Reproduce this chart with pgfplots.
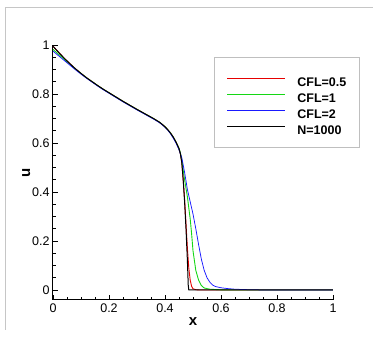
\documentclass[border=0pt]{standalone}
\usepackage{fontspec}
\setmainfont{Liberation Sans}
\usepackage{pgfplots}
\pgfplotsset{compat=1.18}
\definecolor{cred}{RGB}{230,0,0}
\definecolor{cgreen}{RGB}{20,215,20}
\definecolor{cblue}{RGB}{25,25,255}
\begin{document}
\begin{tikzpicture}[x=1pt,y=1pt]
\useasboundingbox (0,0) rectangle (373,337);
\draw[gray!45, line width=0.8pt] (5,7) -- (5,330) -- (373,330);
\begin{axis}[
  at={(53pt,37pt)}, anchor=south west,
  scale only axis, width=280pt, height=255pt,
  xmin=0, xmax=1, ymin=-0.041, ymax=1,
  axis x line*=bottom, axis y line*=left,
  axis line style={line width=1pt, -},
  xtick={0,0.2,0.4,0.6,0.8,1}, ytick={0,0.2,0.4,0.6,0.8,1},
  minor tick num=3,
  tick align=inside,
  major tick length=5pt, minor tick length=3pt,
  every tick/.style={black, line width=0.8pt},
  /pgf/number format/assume math mode=true,
  tick label style={font=\fontsize{12.5}{14}\selectfont},
  xlabel={\textbf{x}}, ylabel={\textbf{u}},
  label style={font=\fontsize{15}{16}\selectfont},
  xlabel style={yshift=2pt},
  ylabel style={yshift=-5pt},
  legend cell align=left,
  legend image code/.code={\draw[#1, line width=1.1pt] (0pt,0pt) -- (58pt,0pt);},
  legend style={at={(0.575,0.953)}, anchor=north west, draw=gray!50, line width=0.6pt,
    font=\bfseries\fontsize{12.5}{14}\selectfont,
    inner xsep=12.5pt, inner ysep=12.5pt, row sep=-1pt, column sep=11.5pt,
    nodes={inner sep=0pt, text height=17pt, text depth=0pt}},
]
\addplot[cred, line width=0.9pt] coordinates {
(0,0.995) (0.02,0.97) (0.04,0.946) (0.06,0.924) (0.08,0.903) (0.10,0.884) (0.12,0.866)
(0.14,0.85) (0.16,0.834) (0.18,0.819) (0.2,0.805) (0.25,0.770) (0.30,0.737) (0.33,0.718)
(0.36,0.699) (0.38,0.685) (0.39,0.676) (0.40,0.666) (0.41,0.654) (0.42,0.640) (0.43,0.623)
(0.44,0.602) (0.45,0.577) (0.455,0.556) (0.46,0.52) (0.465,0.45) (0.47,0.37) (0.475,0.27)
(0.48,0.17) (0.485,0.09) (0.49,0.04) (0.495,0.015) (0.50,0.005) (0.51,0.001) (0.52,0) (1,0)};
\addlegendentry{CFL=0.5}
\addplot[cgreen, line width=0.9pt] coordinates {
(0,0.982) (0.02,0.962) (0.04,0.942) (0.06,0.922) (0.08,0.902) (0.10,0.884) (0.12,0.866)
(0.14,0.85) (0.16,0.834) (0.18,0.819) (0.2,0.805) (0.25,0.770) (0.30,0.737) (0.33,0.718)
(0.36,0.699) (0.38,0.685) (0.39,0.676) (0.40,0.666) (0.41,0.654) (0.42,0.640) (0.43,0.623)
(0.44,0.602) (0.45,0.578) (0.455,0.56) (0.46,0.53) (0.47,0.45) (0.48,0.38) (0.49,0.29)
(0.495,0.23) (0.50,0.16) (0.51,0.08) (0.52,0.04) (0.53,0.018) (0.54,0.008) (0.56,0.003)
(0.6,0.0005) (0.65,0) (1,0)};
\addlegendentry{CFL=1}
\addplot[cblue, line width=0.75pt] coordinates {
(0,0.975) (0.02,0.956) (0.04,0.937) (0.06,0.918) (0.08,0.899) (0.10,0.881) (0.12,0.864)
(0.14,0.848) (0.16,0.832) (0.18,0.817) (0.2,0.803) (0.25,0.768) (0.30,0.735) (0.33,0.716)
(0.36,0.697) (0.38,0.683) (0.39,0.674) (0.40,0.664) (0.41,0.652) (0.42,0.637) (0.43,0.619)
(0.44,0.598) (0.45,0.572) (0.46,0.54) (0.47,0.48) (0.48,0.41) (0.49,0.36) (0.50,0.31)
(0.51,0.25) (0.52,0.185) (0.53,0.125) (0.54,0.08) (0.55,0.05) (0.56,0.032) (0.57,0.02)
(0.58,0.014) (0.6,0.009) (0.62,0.006) (0.65,0.003) (0.7,0.001) (0.75,0) (1,0)};
\addlegendentry{CFL=2}
\addplot[black, line width=1pt] coordinates {
(0,0.995) (0.02,0.97) (0.04,0.946) (0.06,0.924) (0.08,0.903) (0.10,0.884) (0.12,0.866)
(0.14,0.85) (0.16,0.834) (0.18,0.819) (0.2,0.805) (0.25,0.770) (0.30,0.737) (0.33,0.718)
(0.36,0.699) (0.38,0.685) (0.39,0.676) (0.40,0.666) (0.41,0.654) (0.42,0.640) (0.43,0.623)
(0.44,0.602) (0.45,0.577) (0.455,0.556) (0.46,0.52) (0.465,0.45) (0.47,0.36) (0.475,0.25)
(0.48,0.12) (0.483,0.02) (0.485,0) (1,0)};
\addlegendentry{N=1000}
\end{axis}
\end{tikzpicture}
\end{document}
